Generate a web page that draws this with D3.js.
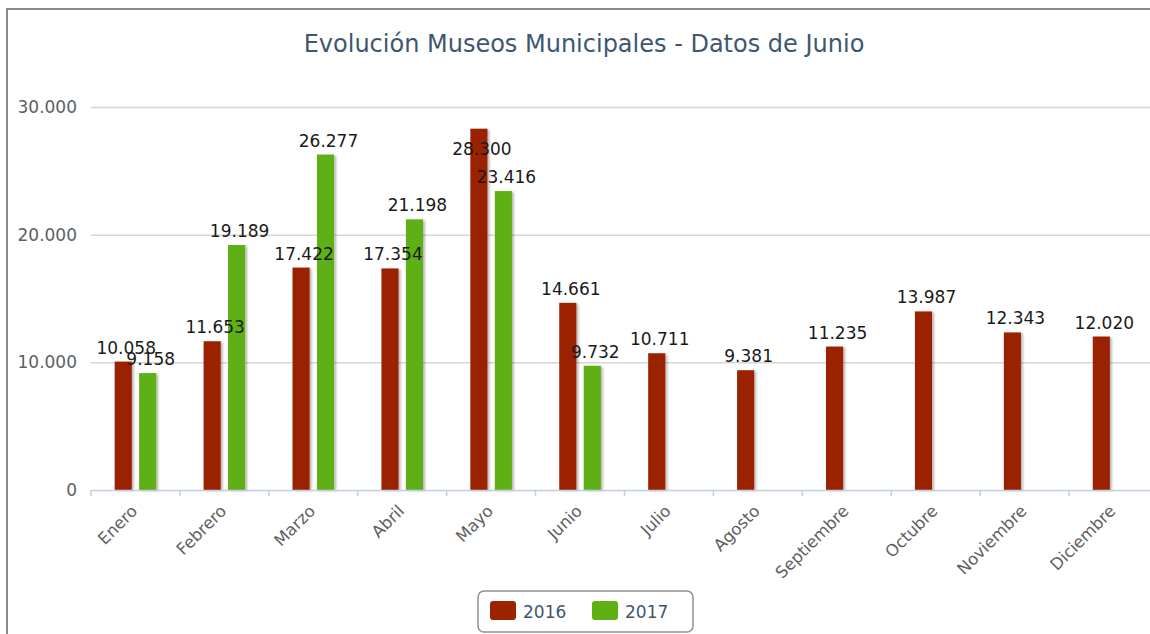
<!DOCTYPE html>
<html>
<head>
<meta charset="utf-8">
<script src="https://cdn.jsdelivr.net/npm/d3@7"></script>
<style>
  html, body { margin: 0; padding: 0; background: #fff; }
  svg { display: block; }
  text { font-family: "DejaVu Sans", Verdana, sans-serif; }
</style>
</head>
<body>
<svg id="chart" width="1150" height="634"></svg>
<script>
// ---- Data ----
const titleText = "Evolución Museos Municipales - Datos de Junio";
const months = ["Enero","Febrero","Marzo","Abril","Mayo","Junio","Julio","Agosto","Septiembre","Octubre","Noviembre","Diciembre"];
const seriesNames = ["2016","2017"];
const values2016 = [10058, 11653, 17422, 17354, 28300, 14661, 10711, 9381, 11235, 13987, 12343, 12020];
const values2017 = [9158, 19189, 26277, 21198, 23416, 9732, null, null, null, null, null, null];
const yTicks = [0, 10000, 20000, 30000];
const seriesColors = ["#9B2300", "#5FB012"];

// ---- Layout ----
const plot = { left: 91, right: 1158, top: 107, bottom: 490 };

const svg = d3.select("#chart");
const locale = d3.formatLocale({ decimal: ",", thousands: ".", grouping: [3], currency: ["", "€"] });
const fmt = locale.format(",d");

const defs = svg.append("defs");
const f = defs.append("filter").attr("id", "shadow").attr("x", "-30%").attr("y", "-10%").attr("width", "160%").attr("height", "120%");
f.append("feDropShadow").attr("dx", 2).attr("dy", 1).attr("stdDeviation", 1.2)
  .attr("flood-color", "#000").attr("flood-opacity", 0.28);

// chart border
svg.append("rect").attr("x", 7).attr("y", 9).attr("width", 1200).attr("height", 700)
  .attr("fill", "#fff").attr("stroke", "#8a8a8a").attr("stroke-width", 2);

// title
svg.append("text").attr("x", 584).attr("y", 52).attr("text-anchor", "middle")
  .attr("font-size", 24).attr("fill", "#3E576F").text(titleText);

// scales
const x = d3.scaleBand().domain(months).range([plot.left, plot.right]).paddingInner(0).paddingOuter(0);
const bw = x.bandwidth();
const xs = d3.scaleBand().domain(seriesNames).range([20, bw - 20]).paddingInner(0.3).paddingOuter(0.15);
const y = d3.scaleLinear().domain([0, 30000]).range([plot.bottom, plot.top]);

// gridlines + y labels
const yAxis = d3.axisLeft(y).tickValues(yTicks).tickSize(-(plot.right - plot.left)).tickFormat(fmt).tickPadding(14);
const gy = svg.append("g").attr("transform", `translate(${plot.left},0)`).call(yAxis);
gy.select(".domain").remove();
gy.selectAll(".tick line").attr("stroke", "#d6d6d6").attr("stroke-width", 1.5)
  .attr("display", d => d === 0 ? "none" : null);
gy.selectAll(".tick text").attr("font-size", 17).attr("fill", "#606060")
  .attr("font-family", "'DejaVu Sans', Verdana, sans-serif");

// bars
const series = [values2016, values2017];
const gBars = svg.append("g");
series.forEach((vals, si) => {
  const data = months.map((m, i) => ({ m, v: vals[i] })).filter(d => d.v != null);
  gBars.selectAll(null).data(data).enter().append("rect")
    .attr("x", d => x(d.m) + xs(seriesNames[si]))
    .attr("y", d => y(d.v))
    .attr("width", xs.bandwidth())
    .attr("height", d => y(0) - y(d.v))
    .attr("fill", seriesColors[si])
    .attr("filter", "url(#shadow)");
});

// x axis
const xAxis = d3.axisBottom(x).tickSize(0).tickFormat("");
const gx = svg.append("g").attr("transform", `translate(0,${plot.bottom})`).call(xAxis);
gx.select(".domain").attr("stroke", "#C0D0E0").attr("stroke-width", 1.5);
const bounds = months.map(m => x(m));
gx.selectAll(".bnd").data(bounds).enter().append("line")
  .attr("x1", d => d).attr("x2", d => d).attr("y1", 0).attr("y2", 6)
  .attr("stroke", "#C0D0E0").attr("stroke-width", 1.5);
gx.selectAll(".lbl").data(months).enter().append("text")
  .attr("transform", d => `translate(${x(d) + bw / 2 + 3},${22}) rotate(-45)`)
  .attr("text-anchor", "end").attr("font-size", 16.5).attr("fill", "#606060")
  .text(d => d);

// data labels
const gLabels = svg.append("g");
series.forEach((vals, si) => {
  const data = months.map((m, i) => ({ m, v: vals[i] })).filter(d => d.v != null);
  gLabels.selectAll(null).data(data).enter().append("text")
    .attr("x", d => x(d.m) + xs(seriesNames[si]) + xs.bandwidth() / 2 + 3)
    .attr("y", d => {
      const top = y(d.v);
      return (top - 25 < plot.top) ? top + 26 : top - 8;
    })
    .attr("text-anchor", "middle").attr("font-size", 17).attr("fill", "#1a1a1a")
    .text(d => fmt(d.v));
});

// legend
const lg = svg.append("g");
lg.append("rect").attr("x", 478).attr("y", 591).attr("width", 215).attr("height", 41).attr("rx", 6)
  .attr("fill", "#fff").attr("stroke", "#909090").attr("stroke-width", 1.5);
const legendItems = lg.selectAll(".li").data(seriesNames).enter().append("g")
  .attr("transform", (d, i) => `translate(${490 + i * 102},601)`);
legendItems.append("rect").attr("width", 26).attr("height", 19).attr("rx", 3)
  .attr("fill", (d, i) => seriesColors[i]);
legendItems.append("text").attr("x", 33).attr("y", 17).attr("font-size", 17)
  .attr("fill", "#3E576F").text(d => d);
</script>
</body>
</html>
